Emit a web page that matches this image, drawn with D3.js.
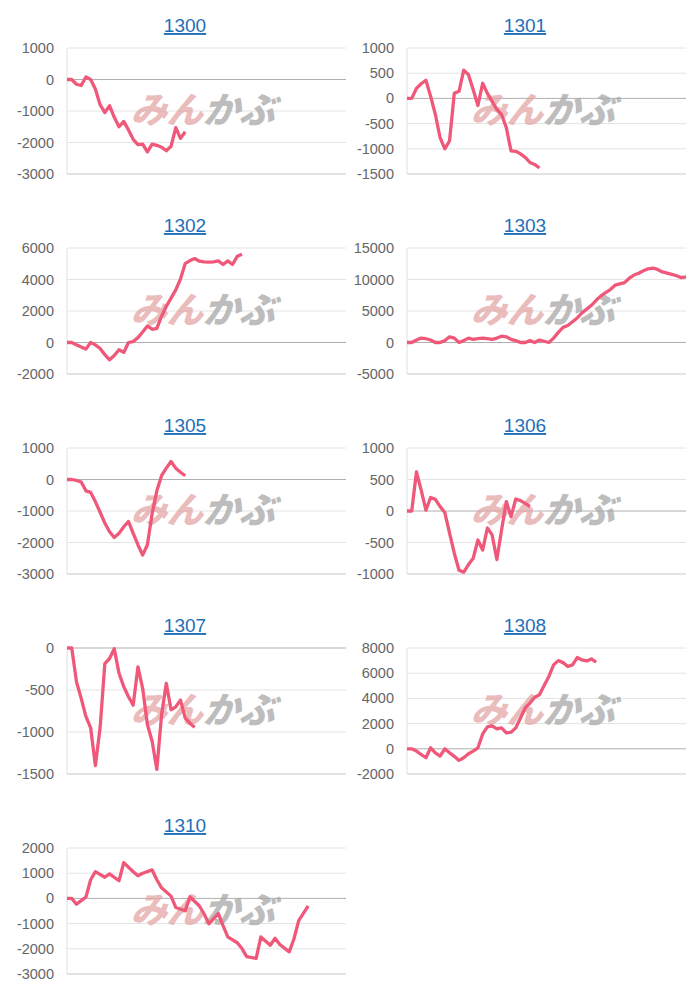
<!DOCTYPE html>
<html><head><meta charset="utf-8">
<script src="https://cdn.jsdelivr.net/npm/d3@7"></script>
<style>body{margin:0;background:#fff}</style>
</head><body><svg id="c" width="700" height="1000"></svg>
<script>
const titles = ["1300","1301","1302","1303","1305","1306","1307","1308","1310"];
const domains = [[-3000,1000],[-1500,1000],[-2000,6000],[-5000,15000],[-3000,1000],[-1000,1000],[-1500,0],[-2000,8000],[-3000,2000]];
const tickSteps = [1000,500,2000,5000,1000,500,500,2000,1000];
const s1300 = [0,0,-150,-190,80,0,-300,-800,-1050,-830,-1200,-1500,-1330,-1600,-1900,-2070,-2050,-2300,-2050,-2090,-2150,-2260,-2120,-1530,-1870,-1660];
const s1301 = [0,0,200,290,360,40,-320,-780,-1000,-840,100,140,560,470,170,-140,300,100,-60,-220,-320,-580,-1040,-1050,-1100,-1170,-1270,-1310,-1380];
const s1302 = [0,0,-150,-280,-420,0,-150,-380,-770,-1100,-830,-460,-630,0,60,310,670,1050,840,900,1670,2300,2820,3340,4030,5010,5200,5330,5160,5120,5100,5120,5180,4950,5180,4950,5470,5600];
const s1303 = [0,0,400,700,600,400,0,0,300,900,700,0,300,700,500,600,700,600,500,700,1000,900,500,300,0,0,300,0,400,200,0,700,1600,2400,2700,3300,3900,4700,5300,5900,6700,7400,7900,8400,9100,9300,9500,10200,10700,11000,11400,11700,11800,11600,11200,11000,10800,10600,10300,10400];
const s1305 = [0,0,-30,-80,-360,-410,-700,-1040,-1380,-1660,-1840,-1710,-1500,-1330,-1710,-2070,-2400,-2070,-1090,-360,120,360,570,360,230,120];
const s1306 = [0,0,620,330,15,215,185,70,-25,-350,-670,-940,-970,-850,-750,-460,-620,-270,-380,-770,-300,150,-90,190,165,120,70];
const s1307 = [0,0,-400,-600,-815,-950,-1400,-950,-185,-125,-10,-300,-460,-580,-680,-225,-480,-910,-1110,-1445,-795,-420,-735,-700,-620,-835,-895,-945];
const s1308 = [0,0,-180,-450,-710,80,-320,-580,0,-320,-600,-920,-710,-390,-180,80,1180,1740,1820,1580,1660,1260,1320,1660,2450,3240,3630,4080,4290,5030,5740,6660,7000,6840,6530,6660,7240,7050,6970,7130,6870];
const s1310 = [0,0,-230,50,740,1060,840,970,700,1420,1060,900,1000,1130,740,420,90,-360,-490,65,-300,-620,-1010,-600,-1080,-1530,-1760,-1990,-2310,-2380,-1530,-1860,-1580,-1830,-2120,-1600,-880,-300];
const days1310 = [0,1,2,4,5,6,8,9,11,12,14,15,16,18,19,20,22,23,25,26,28,29,30,32,33,34,36,37,38,40,41,43,44,45,47,48,49,51];
const series = [s1300,s1301,s1302,s1303,s1305,s1306,s1307,s1308,s1310];
const slots = 60;

const svg = d3.select("#c");
const font = "'Liberation Sans', Arial, sans-serif";
series.forEach((vals, i) => {
  const col = i % 2, row = Math.floor(i / 2);
  const ox = col * 340, oy = row * 200;
  const x0 = 67 + ox, x1 = 346 + ox, yT = 48 + oy, yB = 174 + oy;
  const g = svg.append("g");
  const x = d3.scaleLinear().domain([0, slots - 1]).range([x0, x1]);
  const y = d3.scaleLinear().domain(domains[i]).range([yB, yT]);
  const ticks = d3.range(domains[i][0], domains[i][1] + 1, tickSteps[i]);
  g.selectAll("line.grid").data(ticks).join("line")
    .attr("x1", x0).attr("x2", x1).attr("y1", d => y(d)).attr("y2", d => y(d))
    .attr("stroke", d => d === 0 ? "#b0b0b0" : (d === domains[i][0] ? "#c8c8c8" : "#e4e4e4")).attr("stroke-width", 1);
  g.append("line").attr("x1", x0).attr("x2", x0).attr("y1", yT).attr("y2", yB).attr("stroke", "#e0e0e0");
  g.selectAll("text.tk").data(ticks).join("text")
    .attr("x", x0 - 13).attr("y", d => y(d) + 5).attr("text-anchor", "end")
    .attr("font-family", font).attr("font-size", 14.5).attr("fill", "#666").text(d => d);
  // watermark
  const cx = (x0 + x1) / 2 - 4, cy = (yT + yB) / 2 + 12;
  const wm = g.append("text").attr("transform", `translate(${cx},${cy}) skewX(-18)`)
    .attr("text-anchor", "middle").attr("font-family", "'Noto Sans CJK JP'").attr("font-size", 36)
    .attr("font-weight", 900).attr("opacity", 0.75);
  wm.append("tspan").attr("fill", "#e3a6a6").text("みん");
  wm.append("tspan").attr("fill", "#a8a8a8").text("かぶ");
  // title
  g.append("text").attr("x", 185 + ox).attr("y", 32 + oy).attr("text-anchor", "middle")
    .attr("font-family", font).attr("font-size", 19).attr("fill", "#1f6fb8")
    .attr("text-decoration", "underline").text(titles[i]);
  const days = titles[i] === "1310" ? days1310 : vals.map((v, k) => k);
  const line = d3.line().x((v, k) => x(days[k])).y(v => y(v));
  g.append("path").datum(vals).attr("d", line).attr("fill", "none")
    .attr("stroke", "#f0587a").attr("stroke-width", 3.3).attr("stroke-linejoin", "round");
});
</script></body></html>
